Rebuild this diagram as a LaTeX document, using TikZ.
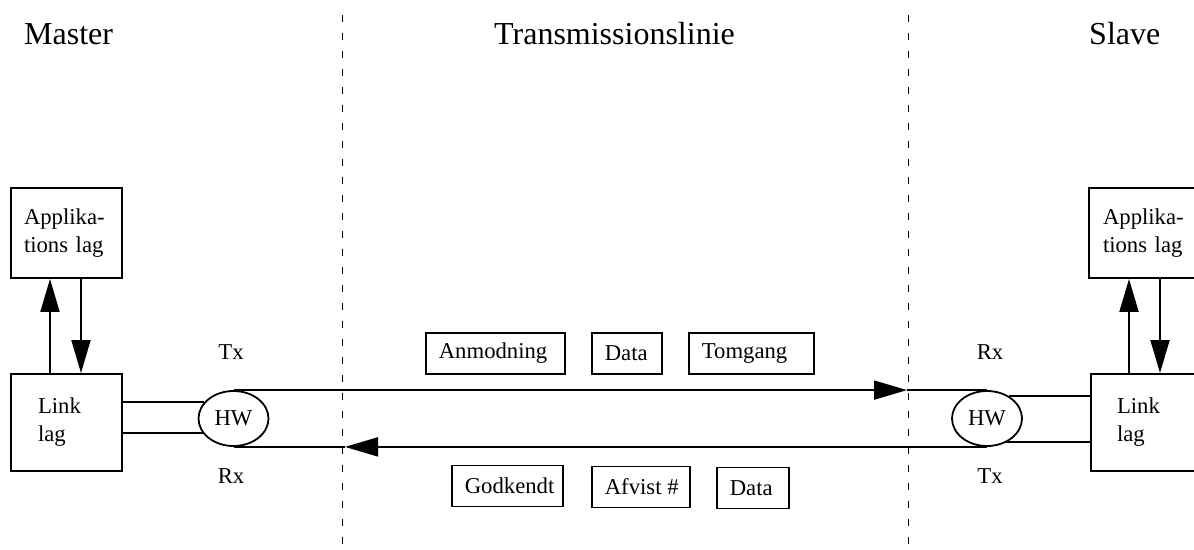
\documentclass[tikz,border=0pt]{standalone}
\usepackage{fontspec}
\setmainfont{Liberation Serif}
\usetikzlibrary{shapes.geometric,arrows.meta}
\begin{document}
\begin{tikzpicture}[x=1pt,y=-1pt,
  every node/.style={font=\fontsize{22.7}{28}\selectfont},
  heading/.style={font=\fontsize{32}{38}\selectfont, anchor=base west, inner sep=0pt},
  label/.style={anchor=base, inner sep=0pt},
  layer/.style={draw, line width=1.9pt, align=left, inner ysep=0pt},
  msg/.style={draw, line width=1.7pt, anchor=west, inner xsep=13pt, inner ysep=0pt, minimum height=41pt},
  hw/.style={draw, ellipse, line width=1.8pt, minimum width=70pt, minimum height=55pt, inner sep=0pt},
  wire/.style={line width=1.9pt},
  arr/.style={line width=1.9pt, -{Triangle[length=33pt,width=19pt]}},
  divider/.style={line width=0.9pt, dash pattern=on 7pt off 11pt}]
\useasboundingbox (0,0) rectangle (1194,549);

% column headings
\node[heading] (hMaster) at (24,44) {Master};
\node[heading] (hLine) at (494,44) {Transmissionslinie};
\node[heading] (hSlave) at (1089,44) {Slave};

% column dividers
\draw[divider] (342,15) -- (342,549);
\draw[divider] (908,15) -- (908,549);

% master side
\node[layer, minimum height=90pt, inner xsep=13pt, text width=85pt] (appL) at (66.5,233) {Applika-\\tions lag};
\node[layer, minimum height=97pt, inner xsep=27pt, text width=57pt] (linkL) at (66.5,422.5) {Link\\lag};
\node[hw] (hwL) at (233.5,418.5) {HW};

% slave side
\node[layer, minimum height=90pt, inner xsep=14pt, text width=83pt] (appR) at (1144.5,233) {Applika-\\tions lag};
\node[layer, minimum height=97pt, inner xsep=26pt, text width=59pt] (linkR) at (1146.5,422.5) {Link\\lag};
\node[hw] (hwR) at (987,418.5) {HW};

% Tx / Rx labels
\node[label] (txL) at (231,359) {Tx};
\node[label] (rxL) at (231,483) {Rx};
\node[label] (rxR) at (990,359) {Rx};
\node[label] (txR) at (990,483) {Tx};

% frames on the line
\node[msg] (req) at (425,353.5) {\makebox[113pt][l]{Anmodning}};
\node[msg] (dataT) at (591,353.5) {\makebox[44pt][l]{Data}};
\node[msg] (idle) at (688,353.5) {\makebox[99pt][l]{Tomgang}};
\node[msg] (ack) at (451,486) {\makebox[85pt][l]{Godkendt}};
\node[msg] (nak) at (591,487) {\makebox[72pt][l]{Afvist \#}};
\node[msg] (dataB) at (716,488) {\makebox[46pt][l]{Data}};

% layer interfaces
\draw[arr] ([xshift=-16.5pt]linkL.north) -- ([xshift=-16.5pt]appL.south);
\draw[arr] ([xshift=14.5pt]appL.south) -- ([xshift=14.5pt]linkL.north);
\draw[arr] ([xshift=-17.5pt]linkR.north) -- ([xshift=-17.5pt]linkR.north |- appR.south);
\draw[arr] ([xshift=13.5pt]linkR.north |- appR.south) -- ([xshift=13.5pt]linkR.north);

% link layer to hardware
\draw[wire] (hwL.151) -- (linkL.east |- hwL.151);
\draw[wire] (hwL.205) -- (linkL.east |- hwL.205);
\draw[wire] (hwR.45) -- (linkR.west |- hwR.45);
\draw[wire] (hwR.-51) -- (linkR.west |- hwR.-51);

% transmission line
\coordinate (tipT) at (907,0);
\coordinate (tipB) at (345,0);
\draw[arr] (hwL.north) -- (tipT |- hwL.north);
\draw[wire] (tipT |- hwL.north) -- (hwR.north);
\draw[arr] (hwR.south) -- (tipB |- hwR.south);
\draw[wire] (tipB |- hwR.south) -- (hwL.south);
\end{tikzpicture}
\end{document}
